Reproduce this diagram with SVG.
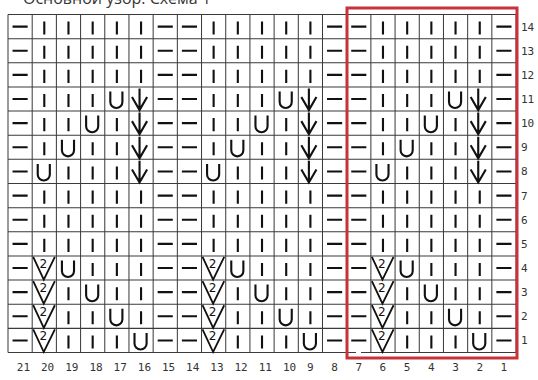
<svg xmlns="http://www.w3.org/2000/svg" width="538" height="380" viewBox="0 0 538 380">
<style>
.sym{fill:none;stroke:#111;stroke-width:2.1;stroke-linecap:butt}
.v2{fill:none;stroke:#111;stroke-width:1.8}
.grid{fill:none;stroke:#3a3a3a;stroke-width:1}
.two{font-family:"DejaVu Sans","Liberation Sans",sans-serif;font-size:12px;fill:#111;text-anchor:middle}
.num{font-family:"DejaVu Sans Mono","Liberation Mono",monospace;font-size:11px;fill:#333}
.title{font-family:"Open Sans","Liberation Sans",sans-serif;font-size:16px;fill:#333}
</style>
<defs>
<path id="U" class="sym" d="M5.5 4.5V15A6 6 0 0 0 17.5 15V4.5"/>
<path id="arrow" class="sym" d="M10.5 1.5V23M3 10L10.5 23L18 10"/>
<g id="V2">
<path class="v2" d="M1 1L11.5 23.5L22.5 1"/>
<text class="two" x="11" y="11.5">2</text>
</g>
<g id="rep">
<path class="sym" d="M4.5 12h15M148.5 12h15M4.5 36h15M148.5 36h15M4.5 60h15M148.5 60h15M4.5 84h15M148.5 84h15M4.5 108h15M148.5 108h15M4.5 132h15M148.5 132h15M4.5 156h15M148.5 156h15M4.5 180h15M148.5 180h15M4.5 204h15M148.5 204h15M4.5 228h15M148.5 228h15M4.5 252h15M148.5 252h15M4.5 276h15M148.5 276h15M4.5 300h15M148.5 300h15M4.5 324h15M148.5 324h15"/>
<path class="sym" d="M36 7v13M60 7v13M84 7v13M108 7v13M132 7v13
M36 31v13M60 31v13M84 31v13M108 31v13M132 31v13
M36 55v13M60 55v13M84 55v13M108 55v13M132 55v13
M36 79v13M60 79v13M84 79v13
M36 103v13M60 103v13M108 103v13
M36 127v13M84 127v13M108 127v13
M60 151v13M84 151v13M108 151v13
M36 175v13M60 175v13M84 175v13M108 175v13M132 175v13
M36 199v13M60 199v13M84 199v13M108 199v13M132 199v13
M36 223v13M60 223v13M84 223v13M108 223v13M132 223v13
M84 247v13M108 247v13M132 247v13
M60 271v13M108 271v13M132 271v13
M60 295v13M84 295v13M132 295v13
M60 319v13M84 319v13M108 319v13"/>
<use href="#U" x="96" y="72"/>
<use href="#U" x="72" y="96"/>
<use href="#U" x="48" y="120"/>
<use href="#U" x="24" y="144"/>
<use href="#U" x="48" y="240"/>
<use href="#U" x="72" y="264"/>
<use href="#U" x="96" y="288"/>
<use href="#U" x="120" y="312"/>
<use href="#arrow" x="120" y="72"/>
<use href="#arrow" x="120" y="96"/>
<use href="#arrow" x="120" y="120"/>
<use href="#arrow" x="120" y="144"/>
<use href="#V2" x="24" y="240"/>
<use href="#V2" x="24" y="264"/>
<use href="#V2" x="24" y="288"/>
<use href="#V2" x="24" y="312"/>
</g>
</defs>
<rect width="538" height="380" fill="#fff"/>
<text class="title" x="23" y="4">Основной узор: Схема 1</text>
<g id="chart" transform="translate(8,14.5) scale(1.008,1.006)">
<path class="grid" d="M0 0V336M24 0V336M48 0V336M72 0V336M96 0V336M120 0V336M144 0V336M168 0V336M192 0V336M216 0V336M240 0V336M264 0V336M288 0V336M312 0V336M336 0V336M360 0V336M384 0V336M408 0V336M432 0V336M456 0V336M480 0V336M504 0V336M0 0H504M0 24H504M0 48H504M0 72H504M0 96H504M0 120H504M0 144H504M0 168H504M0 192H504M0 216H504M0 240H504M0 264H504M0 288H504M0 312H504M0 336H504"/>
<use href="#rep" x="0" y="0"/>
<use href="#rep" x="168" y="0"/>
<use href="#rep" x="336" y="0"/>
</g>
<rect x="356" y="351" width="5" height="2" fill="#fff"/>
<rect id="highlight" x="347" y="8" width="170" height="350" fill="none" stroke="#c8323a" stroke-width="3"/>
<g id="row-numbers" class="num">
<text x="521" y="30.5">14</text>
<text x="521" y="54.6">13</text>
<text x="521" y="78.8">12</text>
<text x="521" y="102.9">11</text>
<text x="521" y="127.1">10</text>
<text x="521" y="151.2">9</text>
<text x="521" y="175.3">8</text>
<text x="521" y="199.5">7</text>
<text x="521" y="223.6">6</text>
<text x="521" y="247.8">5</text>
<text x="521" y="271.9">4</text>
<text x="521" y="296">3</text>
<text x="521" y="320.2">2</text>
<text x="521" y="344.3">1</text>
</g>
<g id="col-numbers" class="num">
<text x="16.8" y="371">21</text>
<text x="41" y="371">20</text>
<text x="65.2" y="371">19</text>
<text x="89.4" y="371">18</text>
<text x="113.6" y="371">17</text>
<text x="137.8" y="371">16</text>
<text x="161.9" y="371">15</text>
<text x="186.1" y="371">14</text>
<text x="210.3" y="371">13</text>
<text x="234.5" y="371">12</text>
<text x="258.7" y="371">11</text>
<text x="282.9" y="371">10</text>
<text x="307.1" y="371">9</text>
<text x="331.2" y="371">8</text>
<text x="355.4" y="371">7</text>
<text x="379.6" y="371">6</text>
<text x="403.8" y="371">5</text>
<text x="428" y="371">4</text>
<text x="452.2" y="371">3</text>
<text x="476.4" y="371">2</text>
<text x="500.6" y="371">1</text>
</g>
</svg>
